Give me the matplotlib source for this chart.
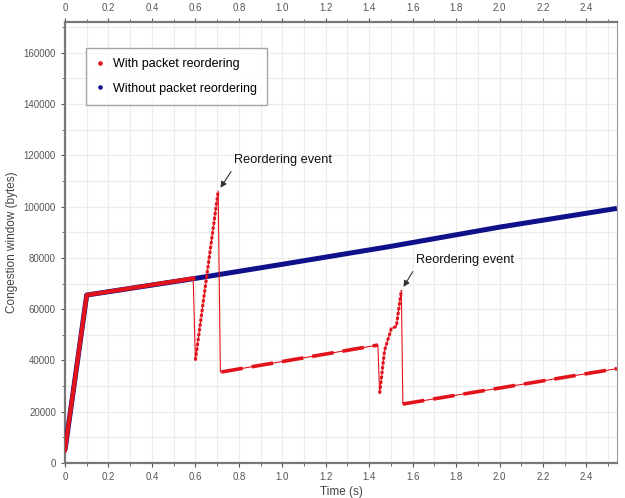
import matplotlib
matplotlib.use("Agg")
import matplotlib.pyplot as plt
from matplotlib.ticker import MultipleLocator, FuncFormatter

plt.rcParams['font.family'] = ['Liberation Sans', 'DejaVu Sans']

# Without packet reordering (breakpoints)
t_blue = [0.0, 0.10, 0.60, 1.00, 1.50, 2.00, 2.54]
w_blue = [5000, 65500, 72000, 77500, 84500, 92000, 99300]

# With packet reordering – segments
t_r1 = [0.0, 0.10, 0.59]          # same as normal
w_r1 = [5000, 65500, 72000]
t_r2 = [0.600, 0.705]             # steep regrowth after first reordering
w_r2 = [40000, 106000]
t_r3 = [0.720, 1.440]             # congestion avoidance
w_r3 = [35500, 46000]
t_r4 = [1.448, 1.471, 1.502, 1.525, 1.548]   # regrowth after second reordering
w_r4 = [27100, 44000, 52400, 53300, 67300]
t_r5 = [1.555, 2.54]
w_r5 = [23000, 36800]

# Thin connector (drops)
t_red_all = t_r1 + t_r2 + [0.715] + t_r3 + t_r4 + t_r5
w_red_all = w_r1 + w_r2 + [35500] + w_r3 + w_r4 + w_r5

ann_text = "Reordering event"
ann1 = (0.705, 106000)
ann2 = (1.548, 67300)

RED = "#e3131b"
BLUE = "#10108a"

fig = plt.figure(figsize=(6.25, 4.98), dpi=100)
ax = fig.add_axes([0.104, 0.0703, 0.883, 0.8855])

ax.plot(t_blue, w_blue, color=BLUE, lw=3.6, solid_capstyle='butt', zorder=3)
ax.plot(t_red_all, w_red_all, color=RED, lw=0.8, zorder=4)
ax.plot(t_r1, w_r1, color=RED, lw=3.0, zorder=4)
ax.plot(t_r2, w_r2, color=RED, lw=2.2, ls=(0, (1, 0.6)), zorder=4)
ax.plot(t_r3, w_r3, color=RED, lw=2.6, ls=(0, (6, 2.5)), zorder=4)
ax.plot(t_r4, w_r4, color=RED, lw=2.2, ls=(0, (1, 0.6)), zorder=4)
ax.plot(t_r5, w_r5, color=RED, lw=2.6, ls=(0, (6, 2.5)), zorder=4)

# legend proxies
ax.plot([], [], ls='none', marker='o', ms=2.3, color=RED, label="With packet reordering")
ax.plot([], [], ls='none', marker='o', ms=2.3, color=BLUE, label="Without packet reordering")
leg = ax.legend(loc='upper left', bbox_to_anchor=(0.038, 0.941), borderaxespad=0,
                fontsize=9, frameon=True, fancybox=False, edgecolor='#909090',
                handlelength=0.6, handletextpad=0.8, borderpad=0.8, labelspacing=1.0)
leg.get_frame().set_linewidth(1.0)

ax.set_xlim(0, 2.54)
ax.set_ylim(0, 172000)
ax.xaxis.set_major_locator(MultipleLocator(0.2))
ax.xaxis.set_minor_locator(MultipleLocator(0.1))
ax.yaxis.set_major_locator(MultipleLocator(20000))
ax.yaxis.set_minor_locator(MultipleLocator(10000))
ax.xaxis.set_major_formatter(FuncFormatter(lambda v, p: "0" if abs(v) < 1e-9 else f"{v:.1f}"))
ax.yaxis.set_major_formatter(FuncFormatter(lambda v, p: f"{int(round(v))}"))
ax.tick_params(axis='both', which='both', labelsize=7, colors='#555555', direction='out')
ax.tick_params(axis='x', which='both', top=True, labeltop=True)
ax.tick_params(which='major', length=3)
ax.tick_params(which='minor', length=2)

ax.grid(True, which='both', color='#ececec', lw=0.8, zorder=0)
ax.set_axisbelow(True)
for s in ['left', 'bottom', 'top']:
    ax.spines[s].set_color('#777777')
    ax.spines[s].set_linewidth(1.6)
ax.spines['right'].set_color('#999999')
ax.spines['right'].set_linewidth(0.8)

ax.set_xlabel("Time (s)", fontsize=8.5, color='#444444', labelpad=3)
ax.set_ylabel("Congestion window (bytes)", fontsize=8.5, color='#444444', labelpad=4)

ax.annotate(ann_text, xy=ann1, xytext=(0.78, 118000), fontsize=9.2, color='#111111',
            arrowprops=dict(arrowstyle='-|>', color='#333333', lw=0.8, mutation_scale=9,
                            shrinkA=2, shrinkB=3, relpos=(0.0, 0.0)),
            ha='left', va='center')
ax.annotate(ann_text, xy=ann2, xytext=(1.615, 79000), fontsize=9.2, color='#111111',
            arrowprops=dict(arrowstyle='-|>', color='#333333', lw=0.8, mutation_scale=9,
                            shrinkA=2, shrinkB=3, relpos=(0.0, 0.0)),
            ha='left', va='center')

fig.savefig("out.png", dpi=100)
